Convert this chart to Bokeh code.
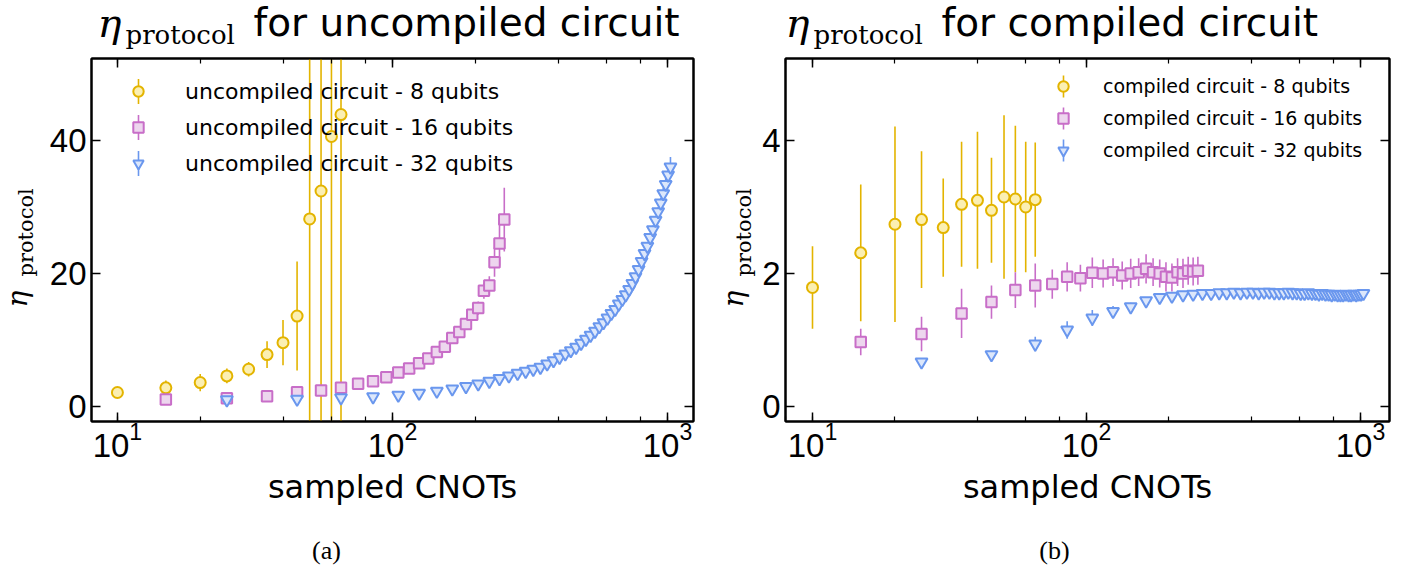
from math import pi
from bokeh.plotting import figure
from bokeh.layouts import row, column
from bokeh.models import (Range1d, LogAxis, LinearAxis, LogTicker, FixedTicker,
                          CustomJSTickFormatter, Legend, LegendItem, Label, Whisker,
                          ColumnDataSource)
from bokeh.embed import file_html
from bokeh.resources import INLINE

# ------------------------------------------------------------------ data
# (a) uncompiled circuit
unc8_x = [10, 15, 20, 25, 30, 35, 40, 45, 50, 55, 60, 65]
unc8_y = [2.1, 2.8, 3.6, 4.6, 5.6, 7.8, 9.6, 13.6, 28.2, 32.4, 40.6, 43.9]
unc8_err = [0.3, 1.1, 1.3, 1.1, 1.1, 2.0, 3.4, 8.2, 100, 100, 100, 100]

unc16_x = [15, 25, 35, 45, 55, 65, 75, 85, 95, 105, 115, 125, 135, 145, 155,
           165, 175, 185, 195, 205, 215, 225, 235, 245, 255]
unc16_y = [1.05, 1.25, 1.55, 2.15, 2.4, 2.8, 3.4, 3.8, 4.4, 5.1, 5.7, 6.5, 7.2,
           8.2, 9.0, 10.3, 11.2, 12.4, 13.8, 14.8, 17.4, 18.2, 21.7, 24.5, 28.1]
unc16_err = [0.2, 0.2, 0.2, 0.2, 0.2, 0.2, 0.2, 0.3, 0.3, 0.3, 0.3, 0.3, 0.4,
             0.4, 0.5, 0.5, 0.6, 0.7, 0.8, 1.0, 1.2, 1.4, 2.2, 3.3, 4.8]

unc32_x = [25, 45, 65, 85, 105, 125, 145, 165, 185, 205, 225, 245, 265, 285,
           305, 325, 345, 365, 385, 405, 425, 445, 465, 485, 505, 525, 545, 565,
           585, 605, 625, 645, 665, 685, 705, 725, 745, 765, 785, 805, 825, 845,
           865, 885, 905, 925, 945, 965, 985, 1005, 1025]
unc32_y = [1.0, 1.1, 1.3, 1.45, 1.7, 2.0, 2.3, 2.65, 3.0, 3.4, 3.8, 4.2, 4.6,
           5.0, 5.3, 5.6, 5.9, 6.4, 6.9, 7.4, 7.9, 8.4, 8.9, 9.5, 10.1, 10.7,
           11.3, 12.0, 12.6, 13.3, 14.0, 14.6, 15.4, 16.1, 16.8, 17.6, 18.5,
           19.5, 20.6, 21.8, 23.0, 24.1, 25.4, 26.6, 28.0, 29.3, 30.6, 32.0,
           33.4, 34.8, 36.0]
unc32_err = [0.2, 0.2, 0.2, 0.2, 0.2, 0.2, 0.2, 0.2, 0.2, 0.2, 0.2, 0.2, 0.2,
             0.2, 0.2, 0.2, 0.2, 0.2, 0.2, 0.2, 0.2, 0.2, 0.2, 0.2, 0.2, 0.2,
             0.3, 0.3, 0.3, 0.3, 0.3, 0.3, 0.3, 0.3, 0.3, 0.3, 0.4, 0.4, 0.4,
             0.4, 0.5, 0.5, 0.5, 0.6, 0.6, 0.7, 0.8, 0.9, 1.0, 1.2, 1.5]

# (b) compiled circuit
comp8_x = [10, 15, 20, 25, 30, 35, 40, 45, 50, 55, 60, 65]
comp8_y = [1.79, 2.31, 2.74, 2.81, 2.69, 3.04, 3.10, 2.95, 3.15, 3.12, 3.00, 3.11]
comp8_err = [0.62, 1.03, 1.47, 1.03, 0.74, 0.94, 1.03, 0.79, 1.23, 1.10, 0.98, 0.86]

comp16_x = [15, 25, 35, 45, 55, 65, 75, 85, 95, 105, 115, 125, 135, 145, 155,
            165, 175, 185, 195, 205, 215, 225, 235, 245, 255]
comp16_y = [0.97, 1.09, 1.40, 1.57, 1.75, 1.82, 1.84, 1.95, 1.93, 2.01, 2.00,
            2.02, 1.97, 2.00, 2.02, 2.07, 2.02, 2.00, 1.95, 1.94, 2.02, 2.00,
            2.04, 2.03, 2.04]
comp16_err = [0.20, 0.26, 0.37, 0.25, 0.27, 0.33, 0.22, 0.22, 0.20, 0.23, 0.21,
              0.21, 0.21, 0.22, 0.21, 0.22, 0.21, 0.21, 0.22, 0.21, 0.21, 0.22,
              0.21, 0.21, 0.21]

comp32_x = unc32_x
comp32_y = [0.67, 0.78, 0.94, 1.15, 1.33, 1.43, 1.50, 1.59, 1.64, 1.66, 1.68,
            1.69, 1.70, 1.70, 1.71, 1.71, 1.72, 1.71, 1.72, 1.72, 1.71, 1.72,
            1.72, 1.71, 1.71, 1.71, 1.72, 1.71, 1.71, 1.70, 1.70, 1.71, 1.70,
            1.70, 1.69, 1.70, 1.69, 1.69, 1.68, 1.69, 1.68, 1.68, 1.68, 1.69,
            1.68, 1.68, 1.69, 1.68, 1.69, 1.69, 1.70]
comp32_err = [0.04, 0.05, 0.11, 0.13, 0.12, 0.08, 0.06, 0.05, 0.05, 0.05, 0.05,
              0.05, 0.05, 0.05, 0.05, 0.05, 0.05, 0.05, 0.05, 0.05, 0.05, 0.05,
              0.05, 0.05, 0.05, 0.05, 0.05, 0.05, 0.05, 0.05, 0.05, 0.05, 0.05,
              0.05, 0.05, 0.05, 0.05, 0.05, 0.05, 0.05, 0.05, 0.05, 0.05, 0.05,
              0.05, 0.05, 0.05, 0.05, 0.05, 0.05, 0.05]

labels_a = ["uncompiled circuit - 8 qubits", "uncompiled circuit - 16 qubits",
            "uncompiled circuit - 32 qubits"]
labels_b = ["compiled circuit - 8 qubits", "compiled circuit - 16 qubits",
            "compiled circuit - 32 qubits"]
yticks_a = [0, 20, 40]
yticks_b = [0, 2, 4]

# ------------------------------------------------------------------ style
SANS = "DejaVu Sans"
SERIF = "DejaVu Serif"
TICKF = "Liberation Sans"
STYLES = [
    dict(marker="circle", size=11, line="#E3B400", fill="#FBEFB2"),
    dict(marker="square", size=10.5, line="#C86EC8", fill="#EDD6EE"),
    dict(marker="inverted_triangle", size=12, line="#6A97EE", fill="#DCE7FB"),
]
H = 583
TITLE_H = 53
TOP_B = 5
FRAME_H = 363
BOT_B = 112
CAP_H = H - TITLE_H - TOP_B - FRAME_H - BOT_B


def blank(width, height):
    f = figure(width=width, height=height, x_range=Range1d(0, 1), y_range=Range1d(0, 1),
               output_backend="svg", toolbar_location=None, min_border=0, title=None,
               x_axis_location=None, y_axis_location=None)
    f.outline_line_color = None
    f.grid.visible = False
    f.background_fill_color = "white"
    f.border_fill_color = "white"
    return f


def lab(f, x, y, text, font, size, style="normal", angle=0.0, align="left"):
    # texts are placed by their vertical middle
    f.add_layout(Label(x=x, y=y, x_units="screen", y_units="screen", text=text,
                       text_font=font, text_font_size=f"{size}px", text_font_style=style,
                       angle=angle, text_align=align, text_baseline="middle",
                       text_color="black"))


def style_axis(ax, show):
    ax.axis_line_color = "black"
    ax.axis_line_width = 2
    ax.major_tick_in = 9
    ax.major_tick_out = 0
    ax.minor_tick_in = 5
    ax.minor_tick_out = 0
    ax.major_tick_line_color = "black"
    ax.major_tick_line_width = 1.5
    ax.minor_tick_line_color = "black"
    ax.minor_tick_line_width = 1.2
    if show:
        ax.major_label_text_font = TICKF
        ax.major_label_text_font_size = "33px"
        ax.major_label_text_color = "black"
    else:
        ax.formatter = CustomJSTickFormatter(code="return ''")
        ax.major_label_standoff = 0
        ax.major_label_text_font_size = "0px"
        ax.major_label_text_color = None


def main_plot(width, bl, br, xr, yr, yticks, series, labels, leg):
    p = figure(width=width, height=TOP_B + FRAME_H + BOT_B, x_axis_type="log",
               x_range=Range1d(*xr), y_range=Range1d(*yr), title=None,
               output_backend="svg", toolbar_location=None,
               min_border_left=bl, min_border_right=br,
               min_border_top=TOP_B, min_border_bottom=BOT_B)
    p.grid.visible = False
    p.outline_line_color = "black"
    p.outline_line_width = 2
    p.background_fill_color = "white"
    p.border_fill_color = "white"

    p.yaxis.ticker = FixedTicker(ticks=yticks)
    p.xaxis.ticker = LogTicker()
    style_axis(p.xaxis[0], True)
    style_axis(p.yaxis[0], True)
    p.yaxis.major_label_standoff = 5
    p.xaxis.major_label_standoff = 0
    p.xaxis.axis_label = "sampled CNOTs"
    p.xaxis.axis_label_text_font = SANS
    p.xaxis.axis_label_text_font_size = "32px"
    p.xaxis.axis_label_text_font_style = "normal"
    p.xaxis.axis_label_text_color = "black"
    p.xaxis.axis_label_standoff = 8

    top = LogAxis(ticker=LogTicker())
    style_axis(top, False)
    p.add_layout(top, "above")
    right = LinearAxis(ticker=FixedTicker(ticks=yticks))
    style_axis(right, False)
    p.add_layout(right, "right")

    srcs = []
    for (xs, ys, es), st in zip(series, STYLES):
        src = ColumnDataSource(dict(x=xs, y=ys,
                                    lo=[y - e for y, e in zip(ys, es)],
                                    hi=[y + e for y, e in zip(ys, es)]))
        srcs.append(src)
        p.segment(x0="x", y0="lo", x1="x", y1="hi", source=src,
                  line_color=st["line"], line_width=1.6)
    rends = []
    for src, st in zip(srcs, STYLES):
        r = p.scatter("x", "y", source=src, marker=st["marker"], size=st["size"],
                      line_color=st["line"], fill_color=st["fill"], line_width=2)
        rends.append(r)

    gx, top_off, pitch, gw, standoff, fsize, half = leg
    legend = Legend(items=[LegendItem(label=l, renderers=[r]) for l, r in zip(labels, rends)],
                    location=(gx - gw / 2, FRAME_H - top_off - 3 * pitch),
                    orientation="vertical", glyph_width=gw, glyph_height=pitch,
                    spacing=0, padding=0, margin=0, label_standoff=standoff,
                    label_text_font=SANS, label_text_font_size=fsize,
                    label_text_color="black",
                    border_line_alpha=0, background_fill_alpha=0)
    p.add_layout(legend, "center")
    for i, st in enumerate(STYLES):
        cy = FRAME_H - top_off - pitch * (i + 0.5)
        w = Whisker(source=ColumnDataSource(dict(b=[gx], lo=[cy - half], hi=[cy + half])),
                    base="b", lower="lo", upper="hi", dimension="height",
                    base_units="screen", lower_units="screen", upper_units="screen",
                    line_color=st["line"], line_width=1.6,
                    lower_head=None, upper_head=None)
        p.add_layout(w)
    return p


def block(total_w, ylab_w, bl, br, xr, yr, yticks, series, labels, leg,
          title_x, title_text, eta_x, prot_x, cap_x, cap_text):
    main_w = total_w - ylab_w
    # y label strip (x measured from the strip's left edge, text middles)
    yl = blank(ylab_w, H)
    lab(yl, eta_x, H - 307, "η", SERIF, 28, "italic", angle=pi / 2)
    lab(yl, prot_x, H - 276, "protocol", SERIF, 21, angle=pi / 2)
    # title strip (x measured from the plot frame's left edge)
    tt = blank(main_w, TITLE_H)
    lab(tt, title_x, TITLE_H - 36 + 14, "η", SERIF, 40, "italic")
    lab(tt, title_x + 28, TITLE_H - 43 + 9, "protocol", SERIF, 26)
    lab(tt, title_x + 156, TITLE_H - 35 + 13, title_text, SANS, 39)
    # main plot
    p = main_plot(main_w, bl, br, xr, yr, yticks, series, labels, leg)
    # caption strip
    cp = blank(main_w, CAP_H)
    lab(cp, cap_x, CAP_H - (550 - (H - CAP_H)), cap_text, "Liberation Serif", 26,
        align="center")
    return row(yl, column(tt, p, cp))


left = block(700, 44, 47, 7, (8.05, 1243), (-2.26, 52.33), yticks_a,
             [(unc8_x, unc8_y, unc8_err), (unc16_x, unc16_y, unc16_err),
              (unc32_x, unc32_y, unc32_err)],
             labels_a, (47, 15, 36, 26, 34, "22px", 12.5),
             6, "for uncompiled circuit", 17, 25, 235, "(a)")
right = block(706, 56, 29, 17, (7.97, 1276), (-0.226, 5.233), yticks_b,
              [(comp8_x, comp8_y, comp8_err), (comp16_x, comp16_y, comp16_err),
               (comp32_x, comp32_y, comp32_err)],
              labels_b, (278, 12, 32, 26, 27, "19px", 11),
              0, "for compiled circuit", 33, 43, 269, "(b)")

layout = row(left, right)
open("out.html", "w").write(file_html(layout, INLINE))
